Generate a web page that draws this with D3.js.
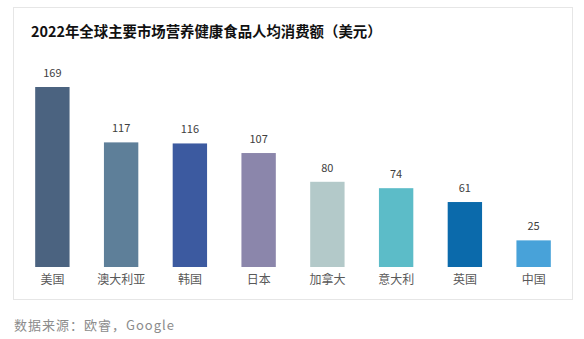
<!DOCTYPE html>
<html>
<head>
<meta charset="utf-8">
<script src="https://cdn.jsdelivr.net/npm/d3@7"></script>
<style>
  body { margin: 0; background: #fff; }
  text { font-family: "Noto Sans CJK SC", "Noto Sans", sans-serif; }
</style>
</head>
<body>
<div id="chart"></div>
<script>
const countries = ["美国", "澳大利亚", "韩国", "日本", "加拿大", "意大利", "英国", "中国"];
const values = [169, 117, 116, 107, 80, 74, 61, 25];
const colors = ["#4b6380", "#5e7f99", "#3c5aa0", "#8b86ab", "#b3c9c9", "#5cbcc8", "#0b6aab", "#48a2d9"];

const width = 584;
const height = 339;

const svg = d3.select("#chart")
    .append("svg")
    .attr("width", width)
    .attr("height", height);

// Panel box
svg.append("rect")
    .attr("x", 13.5)
    .attr("y", 7.5)
    .attr("width", 559)
    .attr("height", 292)
    .attr("fill", "#fff")
    .attr("stroke", "#e6e6e6");

// Title
svg.append("text")
    .attr("x", 31)
    .attr("y", 37)
    .attr("font-size", 14.4)
    .attr("font-weight", "bold")
    .attr("fill", "#111")
    .text("2022年全球主要市场营养健康食品人均消费额（美元）");

const x = d3.scaleBand()
    .domain(countries)
    .range([18, 568])
    .paddingInner(0.5)
    .paddingOuter(0.25);

const y = d3.scaleLinear()
    .domain([0, 169])
    .range([267, 87]);

const data = countries.map((c, i) => ({ c, v: values[i], col: colors[i] }));

// Bars
svg.selectAll(".bar")
    .data(data)
    .enter().append("rect")
    .attr("class", "bar")
    .attr("x", d => x(d.c))
    .attr("y", d => y(d.v))
    .attr("width", x.bandwidth())
    .attr("height", d => y(0) - y(d.v))
    .attr("fill", d => d.col);

// Value labels
svg.selectAll(".val")
    .data(data)
    .enter().append("text")
    .attr("class", "val")
    .attr("x", d => x(d.c) + x.bandwidth() / 2)
    .attr("y", d => y(d.v) - 10)
    .attr("text-anchor", "middle")
    .attr("font-size", 11)
    .attr("fill", "#404040")
    .text(d => d.v);

// Category axis
const xAxis = svg.append("g")
    .attr("transform", `translate(0,${y(0)})`)
    .call(d3.axisBottom(x).tickSize(0).tickPadding(8));
xAxis.select(".domain").remove();
xAxis.selectAll("text")
    .attr("font-size", 12)
    .attr("fill", "#595959")
    .style("font-family", "'Noto Sans CJK SC', sans-serif");

// Source
svg.append("text")
    .attr("x", 14)
    .attr("y", 330)
    .attr("font-size", 13)
    .attr("fill", "#8c8c8c")
    .attr("letter-spacing", 1)
    .text("数据来源：欧睿，Google");
</script>
</body>
</html>
